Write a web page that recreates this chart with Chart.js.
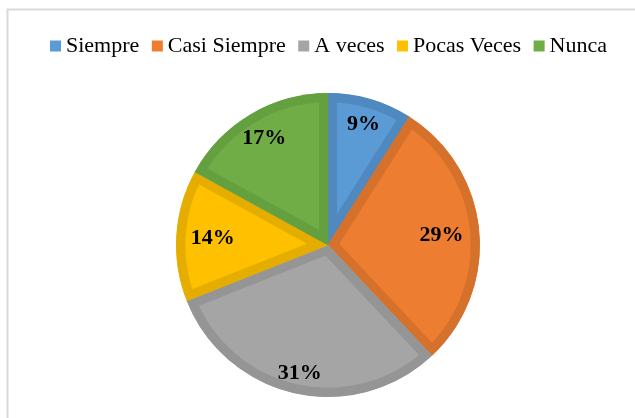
<!DOCTYPE html>
<html>
<head>
<meta charset="utf-8">
<script src="https://cdn.jsdelivr.net/npm/chart.js@4"></script>
<style>
  html, body { margin: 0; padding: 0; background: #fff; }
  #wrap { width: 635px; height: 418px; position: relative; }
</style>
</head>
<body>
<div id="wrap"><canvas id="c" width="635" height="418"></canvas></div>
<script>
const categories = ['Siempre', 'Casi Siempre', 'A veces', 'Pocas Veces', 'Nunca'];
const values = [9, 29, 31, 14, 17];
const valueLabels = ['9%', '29%', '31%', '14%', '17%'];
const fillColors = ['#5B9BD5', '#ED7D31', '#A5A5A5', '#FFC000', '#70AD47'];
const edgeColors = ['#4F89BF', '#D6712C', '#959595', '#E5AD00', '#65A040'];

const framePlugin = {
  id: 'frame',
  beforeDraw(chart) {
    const ctx = chart.ctx;
    ctx.save();
    ctx.fillStyle = '#fff';
    ctx.fillRect(0, 0, chart.width, chart.height);
    ctx.strokeStyle = '#D9D9D9';
    ctx.lineWidth = 2;
    ctx.beginPath();
    ctx.moveTo(7.5, chart.height);
    ctx.lineTo(7.5, 9.5);
    ctx.lineTo(chart.width, 9.5);
    ctx.stroke();
    ctx.restore();
  }
};

const legendPlugin = {
  id: 'customLegend',
  afterDraw(chart, args, opts) {
    const ctx = chart.ctx;
    ctx.save();
    ctx.font = opts.font;
    ctx.textBaseline = 'alphabetic';
    ctx.textAlign = 'left';
    let x = opts.x;
    categories.forEach((name, i) => {
      ctx.fillStyle = fillColors[i];
      ctx.fillRect(x, opts.boxTop, opts.box, opts.box);
      x += opts.box + opts.gap;
      ctx.fillStyle = '#000';
      ctx.fillText(name, x, opts.baseline);
      x += ctx.measureText(name).width + opts.itemGap;
    });
    ctx.restore();
  }
};

const labelPlugin = {
  id: 'sliceLabels',
  afterDatasetsDraw(chart, args, opts) {
    const ctx = chart.ctx;
    const meta = chart.getDatasetMeta(0);
    ctx.save();
    ctx.font = opts.font;
    ctx.fillStyle = '#000';
    ctx.textAlign = 'center';
    ctx.textBaseline = 'middle';
    meta.data.forEach((arc, i) => {
      const p = arc.getProps(['x', 'y', 'startAngle', 'endAngle', 'outerRadius'], true);
      const mid = (p.startAngle + p.endAngle) / 2;
      const r = p.outerRadius * opts.factors[i];
      ctx.fillText(valueLabels[i], p.x + Math.cos(mid) * r, p.y + Math.sin(mid) * r + 1);
    });
    ctx.restore();
  }
};

new Chart(document.getElementById('c'), {
  type: 'pie',
  data: {
    labels: categories,
    datasets: [{
      data: values,
      backgroundColor: fillColors,
      borderColor: edgeColors,
      borderWidth: 9,
      borderAlign: 'inner',
      borderJoinStyle: 'miter',
      hoverOffset: 0
    }]
  },
  options: {
    responsive: false,
    animation: false,
    events: [],
    layout: { padding: { top: 93, bottom: 21, left: 176, right: 155 } },
    plugins: {
      legend: { display: false },
      tooltip: { enabled: false },
      customLegend: { font: '22px "Liberation Serif", "Times New Roman", serif', x: 50, boxTop: 40.5, baseline: 52, box: 11, gap: 5, itemGap: 12.5 },
      sliceLabels: { font: 'bold 22px "Liberation Serif", "Times New Roman", serif', factors: [0.835, 0.75, 0.855, 0.76, 0.825] }
    }
  },
  plugins: [framePlugin, legendPlugin, labelPlugin]
});
</script>
</body>
</html>
